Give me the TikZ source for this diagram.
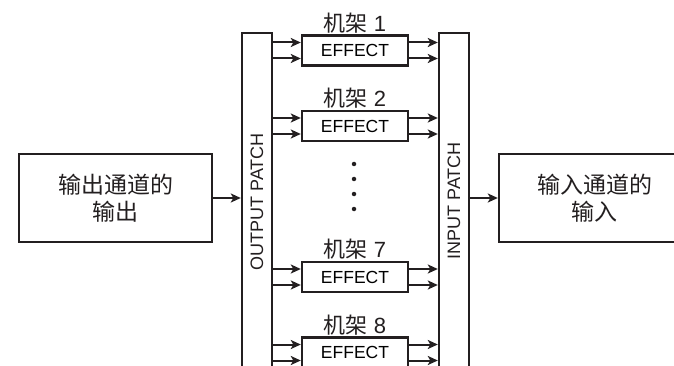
\documentclass[tikz,border=0pt]{standalone}
\usepackage{fontspec}
\setmainfont{Liberation Sans}
\newfontfamily\cjk{Noto Sans CJK SC}
\usetikzlibrary{arrows.meta}
\definecolor{ink}{HTML}{231F20}
\tikzset{
  box/.style={draw=ink, line width=2.4pt, fill=white, inner sep=0pt},
  patchbox/.style={box, minimum width=30pt, minimum height=347pt},
  fxbox/.style={box, minimum width=106pt, minimum height=30pt, font=\fontsize{17.5}{20}\selectfont},
  iobox/.style={box, minimum width=193pt, minimum height=88pt},
  arr/.style={draw=ink, line width=2pt, -{Stealth[length=10pt,width=9pt,inset=2.5pt]}},
  rack/.style={font=\fontsize{22}{24}\selectfont, inner sep=0pt, text=ink},
  ptext/.style={rotate=90, font=\fontsize{18}{20}\selectfont, inner sep=0pt, text=ink},
  iotext/.style={font=\cjk\fontsize{23}{27}\selectfont, align=center, inner sep=0pt, text=ink},
  dot/.style={circle, fill=ink, inner sep=0pt, minimum size=4.5pt}
}
\begin{document}
\begin{tikzpicture}[x=1pt,y=-1pt]
\clip (0,0) rectangle (674,366);
\fill[white] (0,0) rectangle (674,366);
% patches
\node (op) [patchbox] at (257,206.5) {};
\node (ip) [patchbox] at (454,206.5) {};
\node (opt) [ptext] at (257,202) {OUTPUT PATCH};
\node (ipt) [ptext] at (454,201) {INPUT PATCH};
% io boxes
\node (src) [iobox] at (115.5,198) {};
\node (srct) [iotext] at (115.5,198) {输出通道的\\输出};
\node (dst) [iobox] at (595.5,198) {};
\node (dstt) [iotext] at (594.5,198) {输入通道的\\输入};
\draw[arr] (src.east) -- (op.west |- src.east);
\draw[arr] (ip.east |- dst.west) -- (dst.west);
% effect rows
\foreach \n/\y in {1/50.5, 2/126, 7/277, 8/352.5}{
  \node (e\n) [fxbox] at (355,\y) {EFFECT};
  \node (r\n) [rack, anchor=south] at (355,\y-17.5) {{\cjk 机架} \n};
  \coordinate (e\n a) at ([yshift=8pt]e\n.west);
  \coordinate (e\n b) at ([yshift=-8pt]e\n.west);
  \coordinate (e\n c) at ([yshift=8pt]e\n.east);
  \coordinate (e\n d) at ([yshift=-8pt]e\n.east);
  \draw[arr] (op.east |- e\n a) -- (e\n a);
  \draw[arr] (op.east |- e\n b) -- (e\n b);
  \draw[arr] (e\n c) -- (ip.west |- e\n c);
  \draw[arr] (e\n d) -- (ip.west |- e\n d);
}
% dots
\foreach \i/\y in {1/164, 2/179, 3/194, 4/209}{
  \node (d\i) [dot] at (354,\y) {};
}
\end{tikzpicture}
\end{document}
